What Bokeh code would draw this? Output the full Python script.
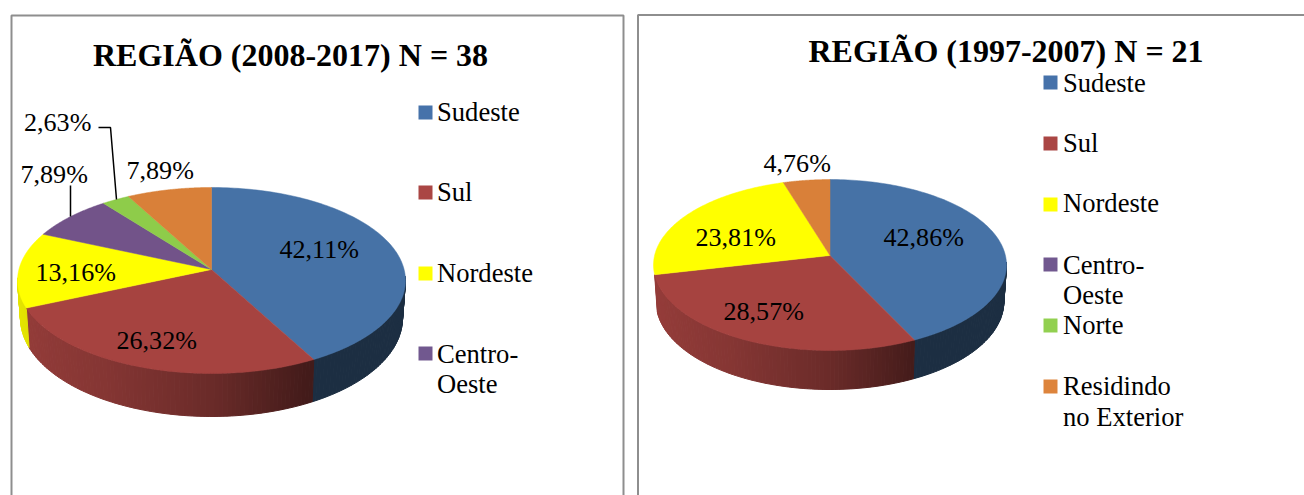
import numpy as np
from bokeh.plotting import figure
from bokeh.models import Range1d
from bokeh.core.properties import value
from bokeh.embed import file_html
from bokeh.resources import INLINE

# ---- data ----
categories = ["Sudeste", "Sul", "Nordeste", "Centro-Oeste", "Norte", "Residindo no Exterior"]
values_2008_2017 = [42.11, 26.32, 13.16, 7.89, 2.63, 7.89]
values_1997_2007 = [42.86, 28.57, 23.81, 0.0, 0.0, 4.76]
title_2008_2017 = "REGIÃO (2008-2017) N = 38"
title_1997_2007 = "REGIÃO (1997-2007) N = 21"

# ---- style ----
face_colors = ["#4672A6", "#A64340", "#FFFF00", "#725389", "#8ECC4A", "#D98039"]
swatch_colors = ["#4672AA", "#AA4644", "#FFFF00", "#71588F", "#92D050", "#DD843C"]
FONT = value("Liberation Serif")
W, H = 1304, 495
TEXT_SIZE = "26.6px"
LABEL_SIZE = "26.1px"
TEXT_SHIFT = 8.3    # rendered text sits this much below the requested position
TITLE_SHIFT = 10.5

p = figure(width=W, height=H, x_range=Range1d(0, W), y_range=Range1d(H, 0),
           output_backend="svg", toolbar_location=None, min_border=0)
p.axis.visible = False
p.grid.visible = False
p.outline_line_color = None
p.background_fill_color = "white"


def project(theta, g):
    """Circle point at clockwise angle theta, seen with the perspective of the reference."""
    u, v = np.sin(theta), np.cos(theta)
    w = 1 + g["k"] * v
    return g["cx"] + g["a"] * u / w, g["cy"] - g["b"] * v / w


def shade(hex_color, f):
    r, g, b = (int(hex_color[i:i + 2], 16) for i in (1, 3, 5))
    return "#%02x%02x%02x" % (round(r * f), round(g * f), round(b * f))


def draw_pie(vals, g):
    edges = np.cumsum([0.0] + list(vals)) / sum(vals) * 2 * np.pi
    # side wall, made of small shaded strips
    xs, ys, cols = [], [], []
    for i in range(len(vals)):
        if vals[i] == 0:
            continue
        n = max(2, int((edges[i + 1] - edges[i]) / 0.02))
        t = np.linspace(edges[i], edges[i + 1], n + 1)
        for t0, t1 in zip(t[:-1], t[1:]):
            pos = np.sin((t0 + t1) / 2)
            limit = g["wall_left"] if pos < 0 else -0.08
            if np.cos((t0 + t1) / 2) > limit:
                continue
            x0, y0 = project(t0, g)
            x1, y1 = project(t1, g)
            s = g["wall_scale"]
            d0 = g["depth0"] + g["depth1"] * abs(np.cos(t0))
            d1 = g["depth0"] + g["depth1"] * abs(np.cos(t1))
            bx0 = g["cx"] + (x0 - g["cx"]) * s
            bx1 = g["cx"] + (x1 - g["cx"]) * s
            by0 = g["cy"] + (y0 - g["cy"]) * s + d0
            by1 = g["cy"] + (y1 - g["cy"]) * s + d1
            f = np.interp(pos, [-1.0, -0.5, 0.0, 0.45, 1.0], [0.90, 0.80, 0.64, 0.40, 0.40])
            xs.append([x0, x1, bx1, bx0])
            ys.append([y0, y1, by1, by0])
            cols.append(shade(face_colors[i], f))
    p.patches(xs, ys, fill_color=cols, line_color=cols, line_width=1)
    # top face
    xs, ys, cols = [], [], []
    for i in range(len(vals)):
        if vals[i] == 0:
            continue
        t = np.linspace(edges[i], edges[i + 1], 120)
        x, y = project(t, g)
        xs.append([g["cx"]] + list(x))
        ys.append([g["cy"]] + list(y))
        cols.append(face_colors[i])
    p.patches(xs, ys, fill_color=cols, line_color=cols, line_width=0.5)


def draw_labels(vals, places):
    visible = [v for v in vals if v > 0]
    p.text([q[0] for q in places], [q[1] - TEXT_SHIFT for q in places],
           text=[f"{v:.2f}%".replace(".", ",") for v in visible],
           text_font=FONT, text_font_size=LABEL_SIZE, text_color="#000000",
           text_align="left", text_baseline="alphabetic")


def draw_legend(names, swatch_x, swatch_tops, text_x, baselines):
    p.rect([swatch_x + 7] * len(swatch_tops), [y + 7 for y in swatch_tops], width=14, height=14,
           fill_color=swatch_colors[:len(swatch_tops)], line_color=None)
    lines, yy = [], []
    for lines_of_entry, bases in zip(names, baselines):
        for s, b in zip(lines_of_entry, bases):
            lines.append(s)
            yy.append(b - TEXT_SHIFT)
    p.text([text_x] * len(lines), yy, text=lines, text_font=FONT, text_font_size=TEXT_SIZE,
           text_color="#000000", text_align="left", text_baseline="alphabetic")


# frames
frame = dict(line_color="#8E8E8E", line_width=2)
p.line([11, 11, 623, 623], [495, 15, 15, 495], **frame)
p.line([637.5, 637.5, 1304], [495, 14.5, 14.5], **frame)

# left chart
geo1 = dict(cx=211, cy=269, a=192.6, b=91.7, k=0.118, depth0=36.8, depth1=7.8, wall_scale=0.985, wall_left=-0.08)
draw_pie(values_2008_2017, geo1)
p.line([98, 110, 116], [127, 127, 199], line_color="black", line_width=1.5)
p.line([70, 70], [185, 216], line_color="black", line_width=1.5)
draw_labels(values_2008_2017, [(279, 257), (116, 348), (35, 280), (20, 182), (23.5, 130), (126, 178)])
p.text([92.5], [65 - TITLE_SHIFT], text=[title_2008_2017], text_font=FONT, text_font_size="32px",
       text_font_style="bold", text_color="#000000", text_align="left", text_baseline="alphabetic")
draw_legend([["Sudeste"], ["Sul"], ["Nordeste"], ["Centro-", "Oeste"]],
            418, [105, 185, 266, 346], 436.5, [[120], [200], [281], [362, 392]])

# right chart
geo2 = dict(cx=829.5, cy=255, a=175.4, b=84.4, k=0.111, depth0=36.5, depth1=4.0, wall_scale=0.985, wall_left=-0.22)
draw_pie(values_1997_2007, geo2)
draw_labels(values_1997_2007, [(883, 245), (723, 319), (695, 245), (763, 171)])
p.text([808], [61 - TITLE_SHIFT], text=[title_1997_2007], text_font=FONT, text_font_size="32px",
       text_font_style="bold", text_color="#000000", text_align="left", text_baseline="alphabetic")
draw_legend([["Sudeste"], ["Sul"], ["Nordeste"], ["Centro-", "Oeste"], ["Norte"], ["Residindo", "no Exterior"]],
            1043, [75, 136, 197, 257, 318, 379], 1062.5,
            [[91], [151], [211], [273, 303], [333], [394, 425]])

open("out.html", "w").write(file_html(p, INLINE))
